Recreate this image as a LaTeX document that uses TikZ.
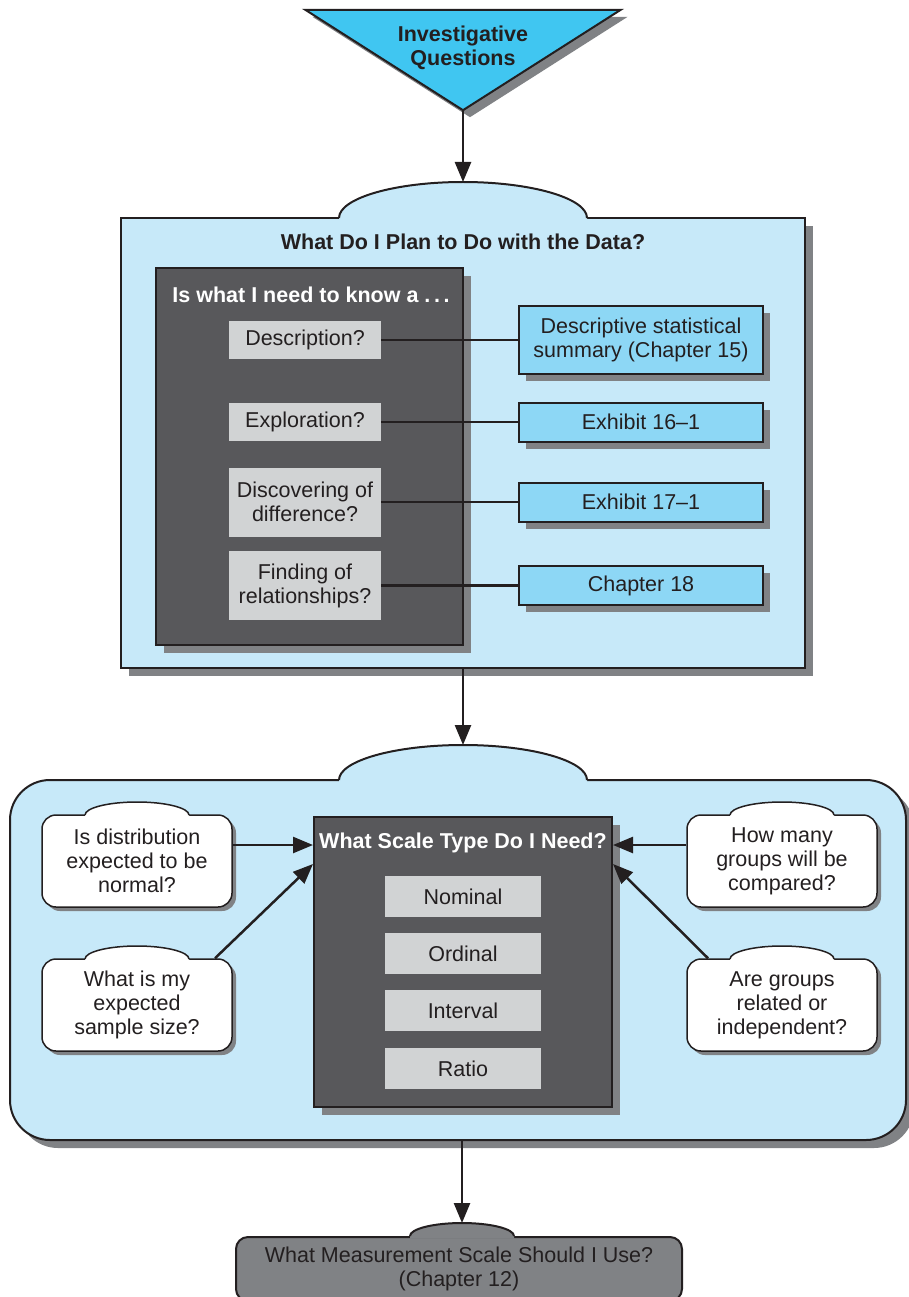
\documentclass[tikz,border=0pt]{standalone}
\usepackage{fontspec}
\setmainfont{Liberation Sans}
\usepackage{xcolor}
\usepackage{tikz}
\usetikzlibrary{positioning,arrows.meta,shadows}
\definecolor{inkblack}{HTML}{231F20}
\definecolor{triblue}{HTML}{40C6F1}
\definecolor{paleblue}{HTML}{C7E9F9}
\definecolor{resultblue}{HTML}{8DD7F5}
\definecolor{slate}{HTML}{58585B}
\definecolor{chipgray}{HTML}{D1D3D4}
\definecolor{shadegray}{HTML}{808285}

\newcommand\bumpon[6]{%
  \begin{scope}[shift={#2}]
    \fill[#5] (-#3,-2.5) -- (-#3,0) .. controls (-#3,0.55*#4) and (-0.55*#3,#4) .. (0,#4)
      .. controls (0.55*#3,#4) and (#3,0.55*#4) .. (#3,0) -- (#3,-2.5) -- cycle;
    \draw[draw=inkblack, line width=#6] (-#3,0) .. controls (-#3,0.55*#4) and (-0.55*#3,#4) .. (0,#4)
      .. controls (0.55*#3,#4) and (#3,0.55*#4) .. (#3,0);
    \coordinate (#1) at (0,#4);
  \end{scope}}

\begin{document}
\begin{tikzpicture}[x=1pt, y=1pt,
  font=\fontsize{21.5}{24}\selectfont, text=inkblack,
  edge/.style={draw=inkblack, line width=2.5pt},
  arrow/.style={edge, -{Triangle[length=20pt,width=16pt]}},
  panel/.style={draw=inkblack, line width=2pt, fill=paleblue, inner sep=0pt,
    drop shadow={shadow xshift=8pt, shadow yshift=-8pt, opacity=1, fill=shadegray}},
  darkbox/.style={draw=inkblack, line width=2pt, fill=slate, inner sep=0pt,
    drop shadow={shadow xshift=8pt, shadow yshift=-8pt, opacity=1, fill=shadegray}},
  chip/.style={fill=chipgray, align=center, inner sep=0pt, minimum width=152pt},
  result/.style={draw=inkblack, line width=2pt, fill=resultblue, align=center, minimum width=244pt,
    drop shadow={shadow xshift=7pt, shadow yshift=-7pt, opacity=1, fill=shadegray}},
  bubble/.style={draw=inkblack, line width=1.5pt, fill=white, rounded corners=14pt, align=center,
    minimum width=190pt, minimum height=92pt,
    drop shadow={shadow xshift=4pt, shadow yshift=-4pt, opacity=1, fill=shadegray}},
  heading/.style={font=\bfseries\fontsize{21.5}{24}\selectfont, text=white}]

  \useasboundingbox (0,0) rectangle (908,-1297);

  % investigative questions
  \node (iq) [minimum width=315pt, minimum height=100pt, inner sep=0pt] at (463,-60) {};
  \fill[shadegray] ([shift={(7,-7)}]iq.north west) -- ([shift={(7,-7)}]iq.north east)
    -- ([shift={(7,-7)}]iq.south) -- cycle;
  \filldraw[fill=triblue, draw=inkblack, line width=2pt] (iq.north west) -- (iq.north east) -- (iq.south) -- cycle;
  \node (iqtext) [font=\bfseries\fontsize{21.5}{24}\selectfont, align=center] at (463,-48) {Investigative\\Questions};

  % plan panel
  \node (plan) [panel, minimum width=684pt, minimum height=450pt] at (463,-443) {};
  \bumpon{plantop}{(463,-218)}{124}{36}{paleblue}{2pt}
  \node (plantitle) [font=\bfseries\fontsize{21.5}{24}\selectfont] at (463,-242) {What Do I Plan to Do with the Data?};
  \draw[arrow] (iq.south) -- (plantop);

  \node (know) [darkbox, minimum width=307pt, minimum height=377pt] at (309.5,-456.5) {};
  \node (knowtitle) [heading] at (311,-295) {Is what I need to know a .\,.\,.};

  \node (desc) [chip, minimum height=38pt] at (305,-340) {Description?};
  \node (expl) [chip, minimum height=38pt] at (305,-422) {Exploration?};
  \node (diff) [chip, minimum height=69pt] at (305,-502) {Discovering of\\difference?};
  \node (rel)  [chip, minimum height=69pt] at (305,-585.5) {Finding of\\relationships?};

  \node (summary) [result, minimum height=68pt] at (641,-340) {Descriptive statistical\\summary (Chapter 15)};
  \node (exA) [result, minimum height=39pt] at (641,-422) {Exhibit 16--1};
  \node (exB) [result, minimum height=39pt] at (641,-502) {Exhibit 17--1};
  \node (chap) [result, minimum height=39pt] at (641,-585.5) {Chapter 18};

  \foreach \a/\b in {desc/summary, expl/exA, diff/exB, rel/chap}
    \draw[edge] (\a) -- (\b);

  % scale panel
  \node (scalepanel) [panel, rounded corners=40pt, minimum width=896pt, minimum height=360pt] at (458,-960) {};
  \bumpon{scaletop}{(463,-780)}{124}{35}{paleblue}{2pt}
  \draw[arrow] (plan.south) -- (scaletop);

  \node (scalebox) [darkbox, minimum width=298pt, minimum height=290pt] at (463,-962) {};
  \node (scaletitle) [heading] at (463,-843) {What Scale Type Do I Need?};
  \foreach \t/\y in {Nominal/896.5, Ordinal/953.5, Interval/1010.5, Ratio/1068.5}
    \node (\t) [chip, minimum width=156pt, minimum height=41pt] at (463,-\y) {\t};

  \node (qnormal)  [bubble] at (137,-861)  {Is distribution\\expected to be\\normal?};
  \node (qsize)    [bubble] at (137,-1005) {What is my\\expected\\sample size?};
  \node (qgroups)  [bubble] at (782,-861)  {How many\\groups will be\\compared?};
  \node (qrelated) [bubble] at (782,-1005) {Are groups\\related or\\independent?};
  \bumpon{qnormaltop}{(137,-815)}{52}{13}{white}{1.5pt}
  \bumpon{qsizetop}{(137,-959)}{52}{13}{white}{1.5pt}
  \bumpon{qgroupstop}{(782,-815)}{52}{13}{white}{1.5pt}
  \bumpon{qrelatedtop}{(782,-959)}{52}{13}{white}{1.5pt}

  \draw[arrow] ([yshift=16]qnormal.east) -- ([yshift=16]qnormal.east -| scalebox.west);
  \draw[arrow] ([xshift=78]qsize.north) -- ([yshift=98]scalebox.west);
  \draw[arrow] ([yshift=16]qgroups.west) -- ([yshift=16]qgroups.west -| scalebox.east);
  \draw[arrow] ([xshift=-74]qrelated.north) -- ([yshift=98]scalebox.east);

  % measurement scale
  \node (usescale) [draw=inkblack, line width=2pt, fill=shadegray, rounded corners=12pt, anchor=north,
    minimum width=446pt, minimum height=64pt, align=center] at (459,-1236)
    {What Measurement Scale Should I Use?\\(Chapter 12)};
  \bumpon{usetop}{(462,-1236)}{52}{13}{shadegray}{2pt}
  \draw[arrow] (usetop |- scalepanel.south) -- (usetop);
\end{tikzpicture}
\end{document}
